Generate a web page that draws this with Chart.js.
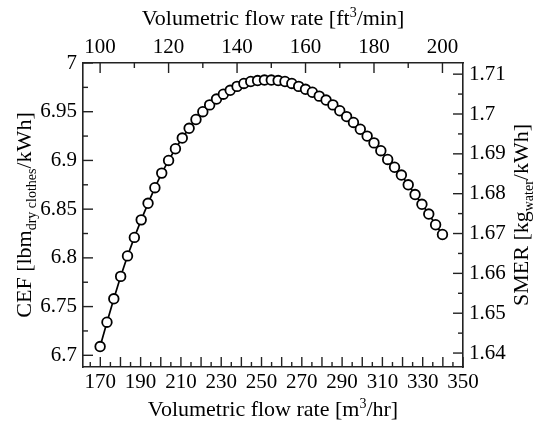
<!DOCTYPE html>
<html>
<head>
<meta charset="utf-8">
<script src="https://cdn.jsdelivr.net/npm/chart.js@4/dist/chart.umd.min.js"></script>
<style>
  html, body { margin: 0; padding: 0; background: #fff; }
  #caixa { width: 535px; height: 429px; }
</style>
</head>
<body>
<div id="caixa"><canvas id="graficoCEF"></canvas></div>
<script>
// vazao em ft3/min (eixo de cima) e CEF
const vazaoFt3 = [100, 102, 104, 106, 108, 110, 112, 114, 116, 118,
  120, 122, 124, 126, 128, 130, 132, 134, 136, 138,
  140, 142, 144, 146, 148, 150, 152, 154, 156, 158,
  160, 162, 164, 166, 168, 170, 172, 174, 176, 178,
  180, 182, 184, 186, 188, 190, 192, 194, 196, 198, 200];
const cef = [6.709, 6.734, 6.758, 6.781, 6.802, 6.821, 6.839, 6.856, 6.872, 6.887,
  6.900, 6.912, 6.923, 6.933, 6.942, 6.950, 6.957, 6.963, 6.968, 6.972,
  6.976, 6.979, 6.981, 6.982, 6.9825, 6.9825, 6.982, 6.981, 6.979, 6.976,
  6.973, 6.970, 6.966, 6.962, 6.957, 6.951, 6.945, 6.939, 6.932, 6.925,
  6.918, 6.910, 6.901, 6.893, 6.885, 6.875, 6.865, 6.855, 6.845, 6.834, 6.824];

const ticksBaixo = [170, 190, 210, 230, 250, 270, 290, 310, 330, 350];
const ticksTopo = [100, 120, 140, 160, 180, 200];
const ticksCEF = [6.7, 6.75, 6.8, 6.85, 6.9, 6.95, 7];
const ticksSMER = [1.64, 1.65, 1.66, 1.67, 1.68, 1.69, 1.7, 1.71];

const fonte = '"Liberation Serif", "Times New Roman", serif';
const corEixo = '#222';

function eixo(posicao, min, max, valores, tamanho, padding) {
  return {
    type: 'linear',
    position: posicao,
    min: min,
    max: max,
    grid: { display: false, drawTicks: false },
    border: { display: true, color: corEixo, width: 1.6 },
    ticks: {
      color: '#000',
      font: { family: fonte, size: 21 },
      padding: padding,
      autoSkip: false,
      maxRotation: 0,
      callback: (v) => String(v)
    },
    afterBuildTicks: (s) => { s.ticks = valores.map(v => ({ value: v })); },
    afterFit: (s) => {
      if (posicao == 'left' || posicao == 'right') s.width = tamanho;
      else s.height = tamanho;
    }
  };
}

// marcas dos eixos para dentro da area do grafico
const marcasPlugin = {
  id: 'marcas',
  beforeDatasetsDraw(chart) {
    const { ctx, chartArea: a, scales } = chart;
    ctx.save();
    ctx.strokeStyle = corEixo;
    ctx.lineWidth = 1.4;
    const marca = (s, passo, longo) => {
      const razao = Math.round(longo / passo);
      const k0 = Math.ceil(s.min / passo - 1e-6);
      const k1 = Math.floor(s.max / passo + 1e-6);
      for (let k = k0; k <= k1; k++) {
        const p = s.getPixelForValue(k * passo);
        const len = (k % razao == 0) ? 10 : 5;
        ctx.beginPath();
        if (s.position == 'bottom') { ctx.moveTo(p, a.bottom); ctx.lineTo(p, a.bottom - len); }
        if (s.position == 'top') { ctx.moveTo(p, a.top); ctx.lineTo(p, a.top + len); }
        if (s.position == 'left') { ctx.moveTo(a.left, p); ctx.lineTo(a.left + len, p); }
        if (s.position == 'right') { ctx.moveTo(a.right, p); ctx.lineTo(a.right - len, p); }
        ctx.stroke();
      }
    };
    marca(scales.x, 5, 10);
    marca(scales.xTopo, 10, 20);
    marca(scales.y, 0.025, 0.05);
    marca(scales.ySMER, 0.005, 0.01);
    ctx.restore();
  }
};

// titulos com sobrescrito / subscrito
function textoRico(ctx, partes, x, y) {
  const medidas = partes.map(p => {
    ctx.font = (p.n ? 22 : 14) + 'px ' + fonte;
    return ctx.measureText(p.t).width;
  });
  let cx = x - medidas.reduce((a, b) => a + b, 0) / 2;
  partes.forEach((p, i) => {
    ctx.font = (p.n ? 22 : 14) + 'px ' + fonte;
    ctx.fillText(p.t, cx, y + (p.n ? 0 : p.d));
    cx += medidas[i];
  });
}

const titulosPlugin = {
  id: 'titulos',
  afterDraw(chart) {
    const { ctx, chartArea: a } = chart;
    const meioX = (a.left + a.right) / 2;
    const meioY = (a.top + a.bottom) / 2;
    ctx.save();
    ctx.fillStyle = '#000';
    ctx.textBaseline = 'alphabetic';
    ctx.textAlign = 'left';
    textoRico(ctx, [{ t: 'Volumetric flow rate [ft', n: 1 }, { t: '3', d: -8 }, { t: '/min]', n: 1 }], meioX, 25);
    textoRico(ctx, [{ t: 'Volumetric flow rate [m', n: 1 }, { t: '3', d: -8 }, { t: '/hr]', n: 1 }], meioX, 416);
    ctx.save();
    ctx.translate(31, meioY);
    ctx.rotate(-Math.PI / 2);
    textoRico(ctx, [{ t: 'CEF [lbm', n: 1 }, { t: 'dry clothes', d: 5 }, { t: '/kWh]', n: 1 }], 0, 0);
    ctx.restore();
    ctx.save();
    ctx.translate(528, meioY);
    ctx.rotate(-Math.PI / 2);
    textoRico(ctx, [{ t: 'SMER [kg', n: 1 }, { t: 'water', d: 5 }, { t: '/kWh]', n: 1 }], 0, 0);
    ctx.restore();
    ctx.restore();
  }
};

const graficoCEF = new Chart(document.getElementById('graficoCEF'), {
  type: 'line',
  data: {
    labels: vazaoFt3,
    datasets: [{
      label: 'CEF',
      data: vazaoFt3.map((v, i) => ({ x: v, y: cef[i] })),
      xAxisID: 'xTopo',
      yAxisID: 'y',
      borderColor: '#000',
      borderWidth: 1.7,
      pointRadius: 4.8,
      pointBackgroundColor: '#fff',
      pointBorderColor: '#000',
      pointBorderWidth: 1.8,
      tension: 0
    }]
  },
  options: {
    responsive: true,
    maintainAspectRatio: false,
    animation: false,
    layout: { padding: 0 },
    plugins: { legend: { display: false }, tooltip: { enabled: false } },
    scales: {
      x: eixo('bottom', 161.4, 350, ticksBaixo, 62, 3),
      xTopo: eixo('top', 95, 206, ticksTopo, 63, 3),
      y: eixo('left', 6.688, 7, ticksCEF, 83, 6),
      ySMER: eixo('right', 1.6365, 1.7128, ticksSMER, 72, 6)
    }
  },
  plugins: [marcasPlugin, titulosPlugin]
});
</script>
</body>
</html>
